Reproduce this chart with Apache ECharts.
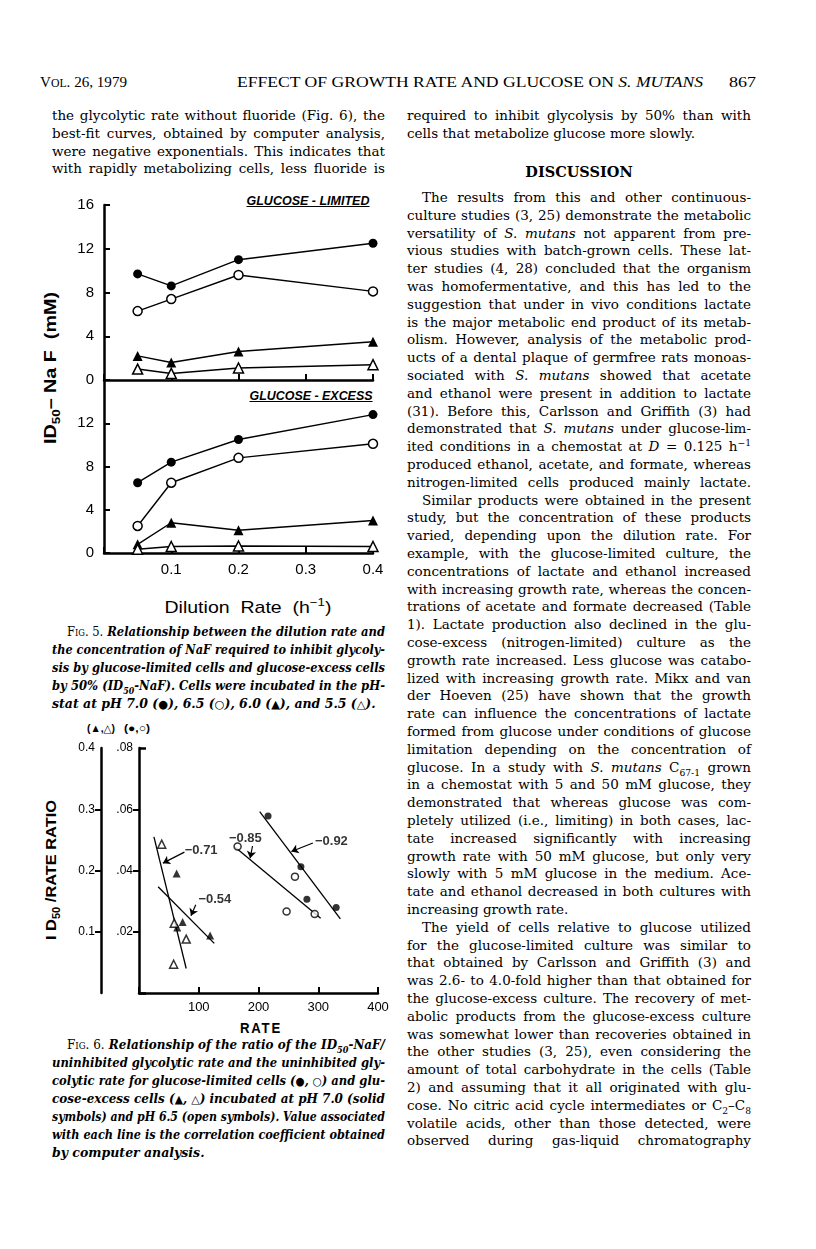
<!DOCTYPE html>
<html>
<head>
<meta charset="utf-8">
<script src="https://cdn.jsdelivr.net/npm/echarts@6/dist/echarts.min.js"></script>
<style>
html, body { margin: 0; padding: 0; background: #fff; }
#page { position: relative; width: 816px; height: 1249px; overflow: hidden; background: #fff; color: #000; }
#chart { position: absolute; left: 0; top: 0; width: 816px; height: 1249px; z-index: 2; }
.ln { position: absolute; white-space: nowrap; font-family: "DejaVu Serif", serif; font-size: 13.5px; line-height: 18px; height: 18px; }
.ln > span { display: inline-block; transform-origin: 0 50%; }
.cap { font-weight: bold; font-style: italic; font-size: 12.5px; }
.sc { font-style: normal; font-weight: normal; font-variant: small-caps; }
.up { font-style: normal; font-weight: normal; font-family: "DejaVu Sans", sans-serif; font-size: 0.9em; }
sub, sup { font-size: 0.68em; line-height: 0; }
.lab { position: absolute; white-space: nowrap; font-family: "Liberation Sans", "DejaVu Sans", sans-serif; line-height: 1; }
.head { position: absolute; white-space: nowrap; font-family: "Liberation Serif", serif; font-size: 15px; line-height: 1; }
</style>
</head>
<body>
<div id="page">
  <div id="text"></div>
  <div id="chart"></div>
</div>
<script>
// ---------- Fig. 5 data: ID50-NaF (mM) vs dilution rate (h-1) ----------
const dilutionRates = [0.05, 0.1, 0.2, 0.4];
const limitedPH70 = [9.7, 8.6, 11.0, 12.5];
const limitedPH65 = [6.3, 7.4, 9.6, 8.1];
const limitedPH60 = [2.2, 1.6, 2.6, 3.5];
const limitedPH55 = [1.0, 0.6, 1.1, 1.4];
const excessPH70 = [6.5, 8.4, 10.5, 12.8];
const excessPH65 = [2.5, 6.5, 8.8, 10.1];
const excessPH60 = [0.8, 2.8, 2.1, 3.0];
const excessPH55 = [0.35, 0.6, 0.65, 0.6];

// ---------- Fig. 6 data: ID50/rate ratio vs uninhibited rate ----------
const limited70Rate = [216, 271, 281, 330];
const limited70Ratio = [0.0578, 0.0412, 0.0306, 0.0279];
const limited65Rate = [165, 261, 247, 294];
const limited65Ratio = [0.0478, 0.0380, 0.0266, 0.0258];
const excess70Rate = [63, 73, 64, 119];
const excess70Ratio = [0.195, 0.116, 0.107, 0.094];
const excess65Rate = [38, 59, 79, 58];
const excess65Ratio = [0.243, 0.114, 0.088, 0.047];

// fitted lines, end points; scale 0 = triangles (0-0.4), 1 = circles (0-0.08)
const fitLabels = ['\u22120.71', '\u22120.54', '\u22120.85', '\u22120.92'];
const fitRates = [[25, 79], [32, 126], [161, 304], [202, 337]];
const fitRatios = [[0.255, 0.040], [0.1735, 0.081], [0.0476, 0.0244], [0.0592, 0.0242]];
const fitScale = [0, 0, 1, 1];
// annotation text and arrows, in triangle-scale units
const noteAt = [[104, 0.232], [127, 0.152], [178, 0.253], [322, 0.247]];
const arrowFrom = [[76, 0.230], [95, 0.144], [190, 0.240], [291, 0.245]];
const arrowTo = [[40, 0.212], [87, 0.126], [186, 0.220], [255, 0.231]];

// ---------- page text ----------
const leftTopLines = [
  'the glycolytic rate without fluoride (Fig. 6), the',
  'best-fit curves, obtained by computer analysis,',
  'were negative exponentials. This indicates that',
  'with rapidly metabolizing cells, less fluoride is'
];
const rightTopLines = [
  'required to inhibit glycolysis by 50% than with',
  '~cells that metabolize glucose more slowly.'
];
const rightLines = [
  '>The results from this and other continuous-',
  'culture studies (3, 25) demonstrate the metabolic',
  'versatility of <i>S. mutans</i> not apparent from pre-',
  'vious studies with batch-grown cells. These lat-',
  'ter studies (4, 28) concluded that the organism',
  'was homofermentative, and this has led to the',
  'suggestion that under in vivo conditions lactate',
  'is the major metabolic end product of its metab-',
  'olism. However, analysis of the metabolic prod-',
  'ucts of a dental plaque of germfree rats monoas-',
  'sociated with <i>S. mutans</i> showed that acetate',
  'and ethanol were present in addition to lactate',
  '(31). Before this, Carlsson and Griffith (3) had',
  'demonstrated that <i>S. mutans</i> under glucose-lim-',
  'ited conditions in a chemostat at <i>D</i> = 0.125 h<sup>\u22121</sup>',
  'produced ethanol, acetate, and formate, whereas',
  'nitrogen-limited cells produced mainly lactate.',
  '>Similar products were obtained in the present',
  'study, but the concentration of these products',
  'varied, depending upon the dilution rate. For',
  'example, with the glucose-limited culture, the',
  'concentrations of lactate and ethanol increased',
  'with increasing growth rate, whereas the concen-',
  'trations of acetate and formate decreased (Table',
  '1). Lactate production also declined in the glu-',
  'cose-excess (nitrogen-limited) culture as the',
  'growth rate increased. Less glucose was catabo-',
  'lized with increasing growth rate. Mikx and van',
  'der Hoeven (25) have shown that the growth',
  'rate can influence the concentrations of lactate',
  'formed from glucose under conditions of glucose',
  'limitation depending on the concentration of',
  'glucose. In a study with <i>S. mutans</i> C<sub>67-1</sub> grown',
  'in a chemostat with 5 and 50 mM glucose, they',
  'demonstrated that whereas glucose was com-',
  'pletely utilized (i.e., limiting) in both cases, lac-',
  'tate increased significantly with increasing',
  'growth rate with 50 mM glucose, but only very',
  'slowly with 5 mM glucose in the medium. Ace-',
  'tate and ethanol decreased in both cultures with',
  '~increasing growth rate.',
  '>The yield of cells relative to glucose utilized',
  'for the glucose-limited culture was similar to',
  'that obtained by Carlsson and Griffith (3) and',
  'was 2.6- to 4.0-fold higher than that obtained for',
  'the glucose-excess culture. The recovery of met-',
  'abolic products from the glucose-excess culture',
  'was somewhat lower than recoveries obtained in',
  'the other studies (3, 25), even considering the',
  'amount of total carbohydrate in the cells (Table',
  '2) and assuming that it all originated with glu-',
  'cose. No citric acid cycle intermediates or C<sub>2</sub>\u2013C<sub>8</sub>',
  'volatile acids, other than those detected, were',
  'observed during gas-liquid chromatography'
];
const fig5Caption = [
  '><span class="sc">Fig. 5.</span> Relationship between the dilution rate and',
  'the concentration of NaF required to inhibit glycoly-',
  'sis by glucose-limited cells and glucose-excess cells',
  'by 50% (ID<sub>50</sub>-NaF). Cells were incubated in the pH-',
  '~stat at pH 7.0 (<span class="up">\u25CF</span>), 6.5 (<span class="up">\u25CB</span>), 6.0 (<span class="up">\u25B2</span>), and 5.5 (<span class="up">\u25B3</span>).'
];
const fig6Caption = [
  '><span class="sc">Fig. 6.</span> Relationship of the ratio of the ID<sub>50</sub>-NaF/',
  'uninhibited glycolytic rate and the uninhibited gly-',
  'colytic rate for glucose-limited cells (<span class="up">\u25CF</span>, <span class="up">\u25CB</span>) and glu-',
  'cose-excess cells (<span class="up">\u25B2</span>, <span class="up">\u25B3</span>) incubated at pH 7.0 (solid',
  'symbols) and pH 6.5 (open symbols). Value associated',
  'with each line is the correlation coefficient obtained',
  '~by computer analysis.'
];

const textBox = document.getElementById('text');

function fit(span, target, justify, always) {
  const w = span.getBoundingClientRect().width;
  if (!w) return;
  if (justify && w < target) {
    const n = (span.textContent.match(/ /g) || []).length;
    if (n) span.style.wordSpacing = ((target - w) / n) + 'px';
  } else if (w > target || always) {
    span.style.transform = 'scaleX(' + (target / w) + ')';
  }
}

// one block of justified lines; '>' = paragraph indent, '~' = last line of paragraph
function addLines(lines, x, width, y0, pitch, cls) {
  lines.forEach((raw, i) => {
    let html = raw, indent = 0, justify = true;
    if (html[0] === '>') { indent = 15; html = html.slice(1); }
    if (html[0] === '~') { justify = false; html = html.slice(1); }
    const div = document.createElement('div');
    div.className = 'ln' + (cls ? ' ' + cls : '');
    div.style.left = (x + indent) + 'px';
    div.style.top = (y0 + i * pitch - 9) + 'px';
    div.innerHTML = '<span>' + html + '</span>';
    textBox.appendChild(div);
    fit(div.firstChild, width - indent, justify, false);
  });
}

function addLabel(html, cx, cy, width, css, rotate) {
  const div = document.createElement('div');
  div.className = 'lab';
  div.style.cssText += css;
  div.innerHTML = html;
  div.style.left = cx + 'px';
  div.style.top = cy + 'px';
  textBox.appendChild(div);
  const w = div.getBoundingClientRect().width;
  const s = width / w;
  div.style.transform = 'translate(-50%, -50%)' + (rotate ? ' rotate(-90deg)' : '') + ' scaleX(' + s + ')';
}

function addHead(html, x, cy, width) {
  const div = document.createElement('div');
  div.className = 'head';
  div.innerHTML = '<span style="display:inline-block;transform-origin:0 50%">' + html + '</span>';
  div.style.left = x + 'px';
  div.style.top = (cy - 8) + 'px';
  textBox.appendChild(div);
  fit(div.firstChild, width, false, true);
}

// running head
addHead('V<span style="font-size:0.78em">OL</span>. 26, 1979', 40, 83, 87);
addHead('EFFECT OF GROWTH RATE AND GLUCOSE ON <i>S. MUTANS</i>', 237, 83, 466);
addHead('867', 729, 83, 27);

// columns
addLines(leftTopLines, 52, 333, 115, 17.8);
addLines(rightTopLines, 407, 344, 115, 17.8);
addLines(rightLines, 407, 344, 197, 17.8);
addLines(fig5Caption, 52, 333, 632, 18, 'cap');
addLines(fig6Caption, 52, 333, 1045, 18, 'cap');

const disc = document.createElement('div');
disc.className = 'ln';
disc.style.cssText = 'left:407px;width:344px;top:163px;text-align:center;font-weight:bold;font-size:14.5px;';
disc.textContent = 'DISCUSSION';
textBox.appendChild(disc);

// figure labels
addLabel('ID<sub>50</sub>\u2013 Na F&nbsp;&nbsp;(mM)', 50, 368, 152, 'font-size:17px;font-weight:bold;', true);
addLabel('GLUCOSE - LIMITED', 308, 201, 123, 'font-size:12px;font-weight:bold;font-style:italic;text-decoration:underline;');
addLabel('GLUCOSE - EXCESS', 311, 396, 123, 'font-size:12px;font-weight:bold;font-style:italic;text-decoration:underline;');
addLabel('Dilution&nbsp; Rate&nbsp; (h<sup>\u22121</sup>)', 248, 607, 167, 'font-size:17px;');
addLabel('(\u25B2,\u25B3)', 101, 728, 28, 'font-size:11px;font-weight:bold;');
addLabel('(\u25CF,\u25CB)', 137, 728, 26, 'font-size:11px;font-weight:bold;');
addLabel('I D<sub>50</sub> /RATE RATIO', 50, 870, 140, 'font-size:15px;font-weight:bold;', true);
addLabel('RATE', 261, 1027, 42, 'font-size:15px;font-weight:bold;letter-spacing:2px;');

// ---------- chart ----------
const INK = '#000';
const SANS = '"Liberation Sans", "DejaVu Sans", sans-serif';

function merge(a, b) {
  const o = Object.assign({}, a);
  for (const k in b) {
    const bv = b[k], av = a[k];
    o[k] = (bv && typeof bv === 'object' && !Array.isArray(bv) && av && typeof av === 'object') ? merge(av, bv) : bv;
  }
  return o;
}

const axisBase = {
  type: 'value',
  splitLine: { show: false },
  axisLine: { show: true, onZero: false, lineStyle: { color: INK, width: 2.5 } },
  axisTick: { show: true, inside: true, length: 6, lineStyle: { color: INK, width: 2 } },
  axisLabel: { color: INK, fontFamily: SANS }
};

const filledCircle = { symbol: 'circle', itemStyle: { color: INK } };
const openCircle = { symbol: 'circle', itemStyle: { color: '#fff', borderColor: INK, borderWidth: 1.5 } };
const filledTri = { symbol: 'triangle', itemStyle: { color: INK } };
const openTri = { symbol: 'triangle', itemStyle: { color: '#fff', borderColor: INK, borderWidth: 1.5 } };

function fig5Line(values, panel, mark, size) {
  return {
    type: 'line', xAxisIndex: panel, yAxisIndex: panel,
    data: dilutionRates.map((r, i) => [r, values[i]]),
    symbol: mark.symbol, symbolSize: size, itemStyle: mark.itemStyle,
    lineStyle: { color: INK, width: 1.4 }, z: 3
  };
}

function fig6Scatter(rates, ratios, scale, mark, size) {
  return {
    type: 'scatter', xAxisIndex: 2, yAxisIndex: scale === 0 ? 2 : 3,
    data: rates.map((r, i) => [r, ratios[i]]),
    symbol: mark.symbol, symbolSize: size, itemStyle: mark.itemStyle, z: 4
  };
}

const series = [
  fig5Line(limitedPH70, 0, filledCircle, 9),
  fig5Line(limitedPH65, 0, openCircle, 9),
  fig5Line(limitedPH60, 0, filledTri, 10),
  fig5Line(limitedPH55, 0, openTri, 10),
  fig5Line(excessPH70, 1, filledCircle, 9),
  fig5Line(excessPH65, 1, openCircle, 9),
  fig5Line(excessPH60, 1, filledTri, 10),
  fig5Line(excessPH55, 1, openTri, 10),
  fig6Scatter(limited70Rate, limited70Ratio, 1, filledCircle, 7),
  fig6Scatter(limited65Rate, limited65Ratio, 1, openCircle, 7),
  fig6Scatter(excess70Rate, excess70Ratio, 0, filledTri, 8),
  fig6Scatter(excess65Rate, excess65Ratio, 0, openTri, 8)
];

fitLabels.forEach((name, i) => {
  series.push({
    type: 'line', name: name, xAxisIndex: 2, yAxisIndex: fitScale[i] === 0 ? 2 : 3,
    data: [[fitRates[i][0], fitRatios[i][0]], [fitRates[i][1], fitRatios[i][1]]],
    symbol: 'none', lineStyle: { color: INK, width: 1.3 }, z: 2
  });
});

series.push({
  type: 'lines', coordinateSystem: 'cartesian2d', xAxisIndex: 2, yAxisIndex: 2,
  symbol: ['none', 'arrow'], symbolSize: 7,
  lineStyle: { color: INK, width: 1.2, opacity: 1 },
  data: arrowFrom.map((p, i) => ({ coords: [p, arrowTo[i]] })), z: 3
});

series.push({
  type: 'scatter', xAxisIndex: 2, yAxisIndex: 2, symbolSize: 1,
  itemStyle: { color: 'rgba(0,0,0,0)' },
  data: noteAt.map((p, i) => ({ value: p, name: fitLabels[i] })),
  label: { show: true, position: 'inside', formatter: '{b}', color: INK, fontFamily: SANS, fontWeight: 'bold', fontSize: 13 },
  z: 5
});

const option = {
  animation: false,
  backgroundColor: 'transparent',
  textStyle: { fontFamily: SANS },
  grid: [
    { left: 104, top: 205, width: 269, height: 175 },
    { left: 104, top: 380, width: 269, height: 173 },
    { left: 139, top: 748, width: 239, height: 245 }
  ],
  xAxis: [
    merge(axisBase, { gridIndex: 0, min: 0, max: 0.4, interval: 0.1, axisLabel: { show: false } }),
    merge(axisBase, { gridIndex: 1, min: 0, max: 0.4, interval: 0.1,
      axisLabel: { fontSize: 15, margin: 9, formatter: v => v === 0 ? '' : v.toFixed(1) } }),
    merge(axisBase, { gridIndex: 2, min: 0, max: 400, interval: 100,
      axisLabel: { fontSize: 13, margin: 8, formatter: v => v === 0 ? '' : String(v) } })
  ],
  yAxis: [
    merge(axisBase, { gridIndex: 0, min: 0, max: 16, interval: 4, axisLabel: { fontSize: 15, margin: 10 } }),
    merge(axisBase, { gridIndex: 1, min: 0, max: 16, interval: 4,
      axisLabel: { fontSize: 15, margin: 10, formatter: v => v === 16 ? '' : String(v) } }),
    merge(axisBase, { gridIndex: 2, position: 'left', offset: 38, min: 0, max: 0.4, interval: 0.1,
      axisTick: { inside: false, length: 6, customValues: [0.1, 0.2, 0.3] },
      axisLabel: { fontSize: 12, margin: 6, formatter: v => v === 0 ? '' : v.toFixed(1) } }),
    merge(axisBase, { gridIndex: 2, position: 'left', offset: 0, min: 0, max: 0.08, interval: 0.02,
      axisTick: { inside: false, length: 6, customValues: [0.02, 0.04, 0.06] },
      axisLabel: { fontSize: 12, margin: 6, formatter: v => v === 0 ? '' : v.toFixed(2).replace(/^0/, '') } }),
    { type: 'value', gridIndex: 2, position: 'left', offset: 38, min: 0, max: 0.4,
      axisLine: { show: false }, axisLabel: { show: false }, splitLine: { show: false },
      axisTick: { show: true, inside: true, length: 7, customValues: [0, 0.4], lineStyle: { color: INK, width: 2.5 } } },
    { type: 'value', gridIndex: 2, position: 'left', offset: 0, min: 0, max: 0.08,
      axisLine: { show: false }, axisLabel: { show: false }, splitLine: { show: false },
      axisTick: { show: true, inside: true, length: 7, customValues: [0.08], lineStyle: { color: INK, width: 2.5 } } }
  ],
  series: series
};

const chart = echarts.init(document.getElementById('chart'));
chart.setOption(option);
</script>
</body>
</html>
